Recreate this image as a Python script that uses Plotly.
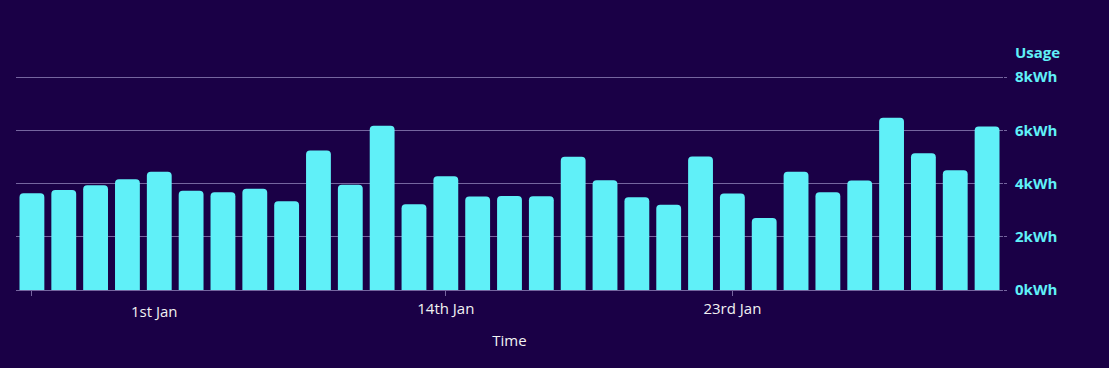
import plotly.graph_objects as go

days = ["1 Jan", "2 Jan", "3 Jan", "4 Jan", "5 Jan", "6 Jan", "7 Jan", "8 Jan", "9 Jan", "10 Jan",
        "11 Jan", "12 Jan", "13 Jan", "14 Jan", "15 Jan", "16 Jan", "17 Jan", "18 Jan", "19 Jan", "20 Jan",
        "21 Jan", "22 Jan", "23 Jan", "24 Jan", "25 Jan", "26 Jan", "27 Jan", "28 Jan", "29 Jan", "30 Jan", "31 Jan"]
usage_kwh = [3.63, 3.76, 3.93, 4.16, 4.44, 3.73, 3.67, 3.80, 3.33, 5.24,
             3.95, 6.17, 3.22, 4.27, 3.51, 3.53, 3.52, 5.00, 4.12, 3.48,
             3.20, 5.01, 3.62, 2.70, 4.44, 3.67, 4.11, 6.47, 5.14, 4.50, 6.14]
tick_days = ["1 Jan", "14 Jan", "23 Jan"]
tick_labels = ["", "14th Jan", "23rd Jan"]
first_label = "1st Jan"
y_ticks = [0, 2, 4, 6, 8]
y_tick_labels = ["0kWh", "2kWh", "4kWh", "6kWh", "8kWh"]

BG = "#1a0046"
CYAN = "#60f0f8"
GRID = "#75659f"

fig = go.Figure()
fig.add_trace(go.Bar(
    x=days, y=usage_kwh,
    marker=dict(color=CYAN, line=dict(width=0), cornerradius=4),
    hoverinfo="x+y",
))

fig.update_layout(
    width=1109, height=368,
    paper_bgcolor=BG, plot_bgcolor=BG,
    margin=dict(l=16, r=106, t=75, b=78),
    bargap=0.22,
    showlegend=False,
    font=dict(family="Open Sans", color="#f2f2f2"),
    xaxis=dict(
        type="category",
        range=[-0.5, len(days) - 0.5],
        tickmode="array", tickvals=tick_days, ticktext=tick_labels,
        ticks="outside", ticklen=5, tickcolor=GRID, tickwidth=1,
        showline=True, linecolor=GRID, linewidth=1,
        showgrid=False, zeroline=False,
        tickfont=dict(size=15, color="#f2f2f2", family="Open Sans"),
        title=dict(text="Time", standoff=18, font=dict(size=15, color="#f2f2f2", family="Open Sans")),
    ),
    yaxis=dict(
        side="right",
        range=[0, 8.075],
        tickmode="array", tickvals=y_ticks, ticktext=y_tick_labels,
        ticks="outside", ticklen=3, tickcolor=GRID,
        ticklabelstandoff=5,
        showgrid=True, gridcolor=GRID, gridwidth=1,
        zeroline=False, showline=False,
        tickfont=dict(size=15, color=CYAN, family="Open Sans", weight="bold"),
    ),
    annotations=[
        dict(text="<b>Usage</b>", xref="paper", yref="paper", x=1, y=1,
             xanchor="left", yanchor="bottom", xshift=10, yshift=11, showarrow=False,
             font=dict(size=15, color=CYAN, family="Open Sans")),
        dict(text=first_label, xref="x", yref="paper", x=days[0], y=0,
             xanchor="center", yanchor="top", xshift=123, yshift=-9, showarrow=False,
             font=dict(size=15, color="#f2f2f2", family="Open Sans")),
    ],
)

fig.write_html("out.html", config={"displayModeBar": False},
               post_script="document.body.style.margin='0';document.body.style.background='#1a0046';")
